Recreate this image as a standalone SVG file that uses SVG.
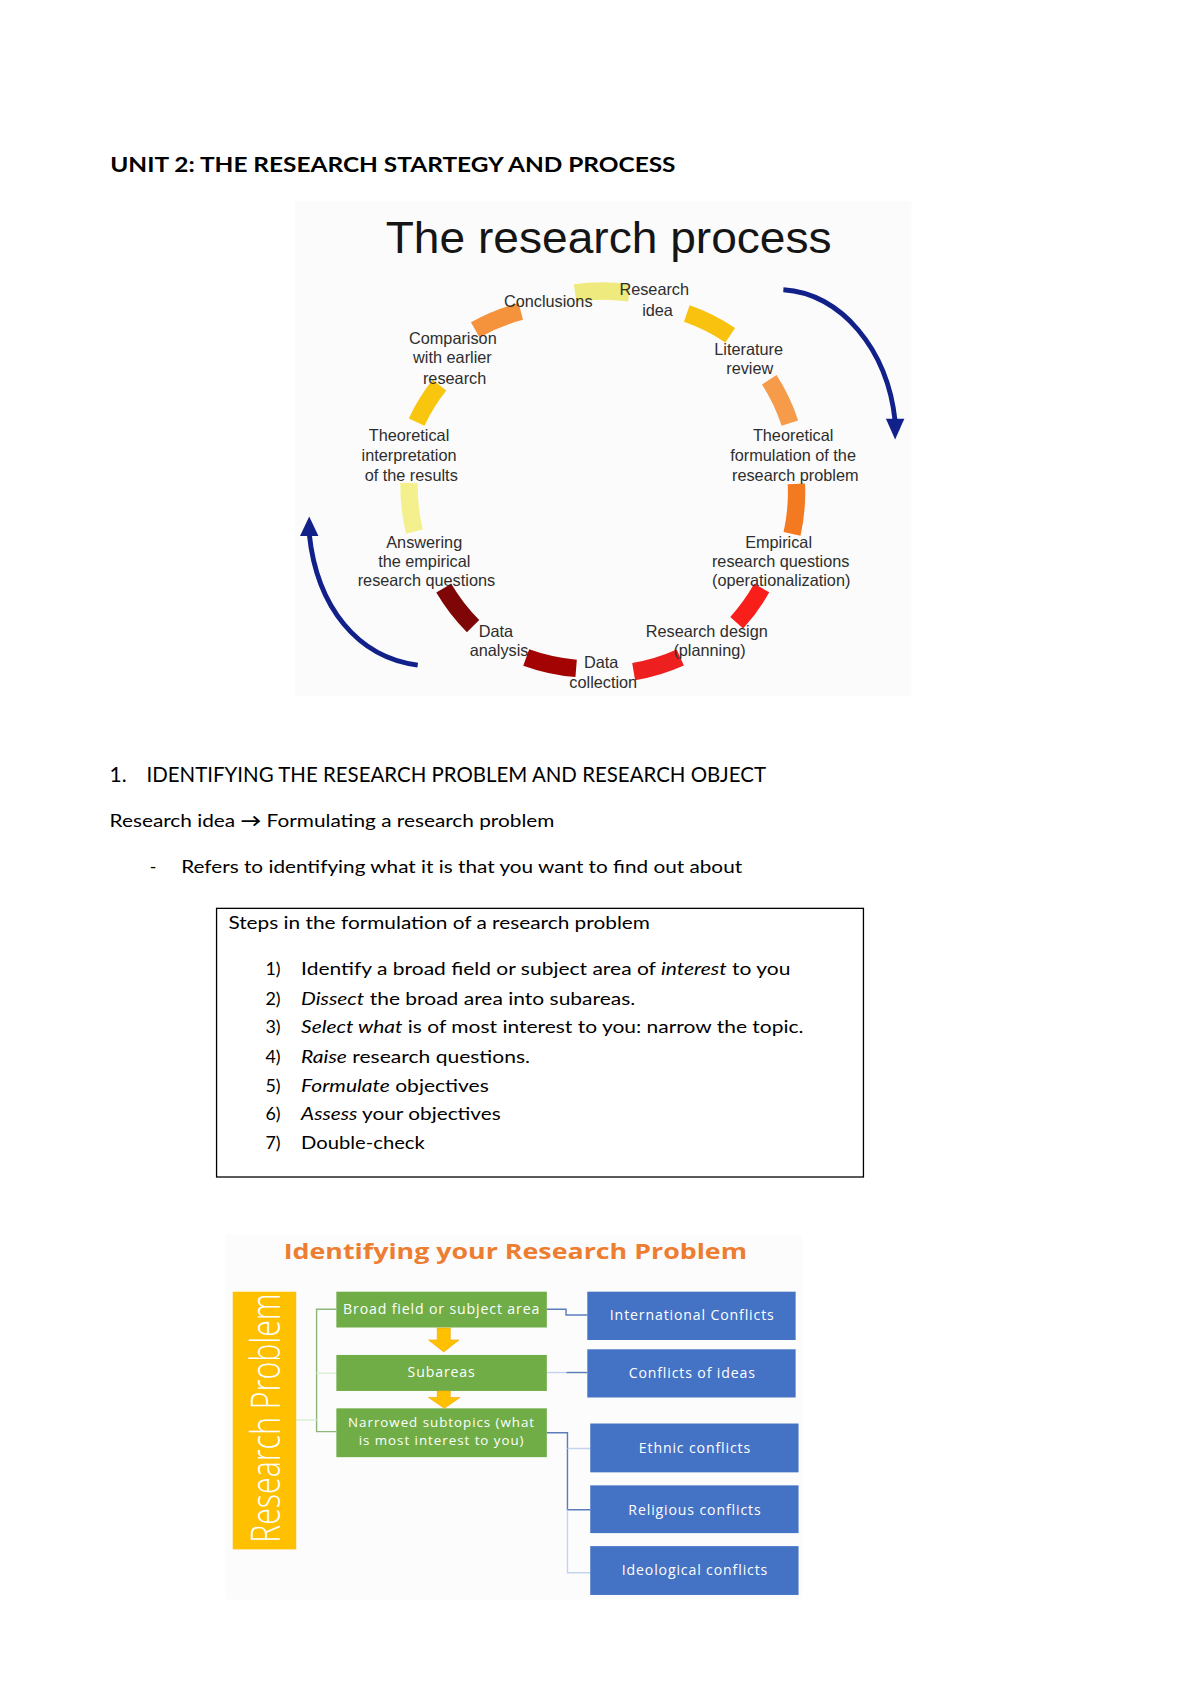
<svg xmlns="http://www.w3.org/2000/svg" width="1200" height="1696" viewBox="0 0 1200 1696">
<defs>
<style>
.t{font-family:Lato,"Liberation Sans",sans-serif;fill:#000}
.tb{font-family:Lato,"Liberation Sans",sans-serif;font-weight:bold;font-size:20px;fill:#000}
.h{font-family:Lato,"Liberation Sans",sans-serif;font-size:19.3px;fill:#000}
.b{font-family:Lato,"Liberation Sans",sans-serif;font-size:16.5px;fill:#000}
.i{font-style:italic}
.c{font-family:"Liberation Sans",Arial,sans-serif;font-size:15px;fill:#2e2e2e;text-anchor:middle}
.seg{fill:none;stroke-width:16;stroke-linecap:butt}
.nav{fill:none;stroke:#12208a;stroke-width:4.5}
.g{fill:#70AD47}
.bl{fill:#4472C4}
.w{font-family:"Open Sans","Liberation Sans",sans-serif;font-size:13px;letter-spacing:0.8px;fill:#fff;text-anchor:middle}
.ws{font-size:12.3px;letter-spacing:0.9px}
.lg{fill:none;stroke:#8db67a;stroke-width:1.3}
.lgf{fill:none;stroke:#dcefd0;stroke-width:1.3}
.lb{fill:none;stroke:#5b7cbb;stroke-width:1.3}
.lbf{fill:none;stroke:#c4d4ee;stroke-width:1.3}
</style>
</defs>
<rect width="1200" height="1696" fill="#fff"/>
<g transform="scale(1.085)">
<g id="page-text">
<text class="tb" x="101.6" y="158.2" textLength="521" lengthAdjust="spacingAndGlyphs">UNIT 2: THE RESEARCH STARTEGY AND PROCESS</text>
<text class="h" x="101" y="720.4">1.</text>
<text class="h" x="135" y="720.4" textLength="571" lengthAdjust="spacingAndGlyphs">IDENTIFYING THE RESEARCH PROBLEM AND RESEARCH OBJECT</text>
<text class="b" x="101" y="762.5" textLength="410" lengthAdjust="spacingAndGlyphs">Research idea <tspan font-weight="bold">→</tspan> Formulating a research problem</text>
<text class="b" x="138" y="804.3">-</text>
<text class="b" x="167" y="804.3" textLength="517" lengthAdjust="spacingAndGlyphs">Refers to identifying what it is that you want to find out about</text>
</g>
<g id="research-process">
<rect x="272" y="185" width="568" height="457" fill="#fbfbfb"/>
<text x="561" y="233.5" font-family="Liberation Sans,Arial,sans-serif" font-size="41" fill="#151515" text-anchor="middle" textLength="411" lengthAdjust="spacingAndGlyphs">The research process</text>
<g id="cycle-segments">
<path class="seg" stroke="#EEEA7E" d="M530,270 A175,175 0 0 1 580,270"/>
<path class="seg" stroke="#F8C20E" d="M633,289 A175,175 0 0 1 673,309"/>
<path class="seg" stroke="#F59B4A" d="M709,350 A175,175 0 0 1 728,390"/>
<path class="seg" stroke="#F37A21" d="M734,446 A175,175 0 0 1 730,492"/>
<path class="seg" stroke="#F81E1A" d="M702,542 A175,175 0 0 1 679,574"/>
<path class="seg" stroke="#EE1F1F" d="M627,606 A175,175 0 0 1 584,619"/>
<path class="seg" stroke="#A30303" d="M531,616 A175,175 0 0 1 485,606"/>
<path class="seg" stroke="#7E0606" d="M436,577 A175,175 0 0 1 409,542"/>
<path class="seg" stroke="#F4F08E" d="M382,490 A175,175 0 0 1 377,445"/>
<path class="seg" stroke="#F9C60F" d="M384,389 A175,175 0 0 1 405,355"/>
<path class="seg" stroke="#F5923C" d="M438,304 A175,175 0 0 1 480,287"/>
</g>
<g id="step-research-idea"><text class="c" x="603" y="272">Research</text><text class="c" x="606" y="291">idea</text></g>
<g id="step-literature"><text class="c" x="690" y="327">Literature</text><text class="c" x="691" y="345">review</text></g>
<g id="step-theoretical-formulation"><text class="c" x="731" y="406.5">Theoretical</text><text class="c" x="731" y="425">formulation of the</text><text class="c" x="733" y="443">research problem</text></g>
<g id="step-empirical"><text class="c" x="717.6" y="505">Empirical</text><text class="c" x="719.5" y="523">research questions</text><text class="c" x="720" y="540">(operationalization)</text></g>
<g id="step-design"><text class="c" x="651.4" y="587">Research design</text><text class="c" x="654" y="605">(planning)</text></g>
<g id="step-collection"><text class="c" x="554" y="616">Data</text><text class="c" x="556" y="634">collection</text></g>
<g id="step-analysis"><text class="c" x="457" y="587">Data</text><text class="c" x="460" y="605">analysis</text></g>
<g id="step-answering"><text class="c" x="391" y="505">Answering</text><text class="c" x="391" y="523">the empirical</text><text class="c" x="393" y="540">research questions</text></g>
<g id="step-interpretation"><text class="c" x="377" y="406.5">Theoretical</text><text class="c" x="377" y="425">interpretation</text><text class="c" x="379" y="443">of the results</text></g>
<g id="step-comparison"><text class="c" x="417.4" y="317">Comparison</text><text class="c" x="417" y="335">with earlier</text><text class="c" x="419" y="354">research</text></g>
<g id="step-conclusions"><text class="c" x="505.3" y="283">Conclusions</text></g>
<g id="cycle-arrows">
<path class="nav" d="M722,267 C775,270 818,322 825,388"/>
<polygon fill="#12208a" points="816.5,386 833.5,386 825,405"/>
<path class="nav" d="M385,613 C330,606 292,560 285,492"/>
<polygon fill="#12208a" points="276.5,494 293.5,494 285,476"/>
</g>
</g>
<g id="steps-box">
<rect x="199.6" y="837.2" width="596.2" height="247.6" fill="none" stroke="#000" stroke-width="1.2"/>
<text class="b" x="210.5" y="856.5" textLength="388.5" lengthAdjust="spacingAndGlyphs">Steps in the formulation of a research problem</text>
<text class="b" x="244.6" y="898.6">1)</text>
<text class="b" x="277.5" y="898.6" textLength="451" lengthAdjust="spacingAndGlyphs">Identify a broad field or subject area of <tspan class="i">interest</tspan> to you</text>
<text class="b" x="244.6" y="926.3">2)</text>
<text class="b" x="277.5" y="926.3" textLength="308" lengthAdjust="spacingAndGlyphs"><tspan class="i">Dissect</tspan> the broad area into subareas.</text>
<text class="b" x="244.6" y="952.4">3)</text>
<text class="b" x="277.5" y="952.4" textLength="463" lengthAdjust="spacingAndGlyphs"><tspan class="i">Select what</tspan> is of most interest to you: narrow the topic.</text>
<text class="b" x="244.6" y="979.4">4)</text>
<text class="b" x="277.5" y="979.4" textLength="211" lengthAdjust="spacingAndGlyphs"><tspan class="i">Raise</tspan> research questions.</text>
<text class="b" x="244.6" y="1006">5)</text>
<text class="b" x="277.5" y="1006" textLength="173" lengthAdjust="spacingAndGlyphs"><tspan class="i">Formulate</tspan> objectives</text>
<text class="b" x="244.6" y="1032.3">6)</text>
<text class="b" x="277.5" y="1032.3" textLength="184" lengthAdjust="spacingAndGlyphs"><tspan class="i">Assess</tspan> your objectives</text>
<text class="b" x="244.6" y="1059.4">7)</text>
<text class="b" x="277.5" y="1059.4" textLength="114" lengthAdjust="spacingAndGlyphs">Double-check</text>
</g>
<g id="research-problem-chart">
<rect x="208" y="1138" width="531" height="336" fill="#fcfcfc"/>
<text x="475" y="1160.7" font-family="Open Sans,Liberation Sans,sans-serif" font-weight="bold" font-size="19.5" fill="#ED7D31" text-anchor="middle" textLength="427" lengthAdjust="spacingAndGlyphs">Identifying your Research Problem</text>
<g id="connectors">
<path class="lg" d="M310,1206.7 H291.8 V1319.5 H310"/>
<path class="lgf" d="M291.8,1265.7 H310 M273,1308.7 H291.8"/>
<path class="lb" d="M504,1206.7 H521.7 V1212 H541.3"/>
<path class="lbf" d="M504,1265 H522"/>
<path class="lb" d="M522,1265 H541.3"/>
<path class="lb" d="M504,1320.5 H523 V1391.5 H544"/>
<path class="lbf" d="M523,1391.5 V1449.5 H544 M523,1335 H544"/>
</g>
<g id="node-research-problem">
<rect x="214.5" y="1190.5" width="58.5" height="237.5" fill="#FFC000"/>
<text transform="translate(258,1307) rotate(-90)" x="0" y="0" font-family="Open Sans,Liberation Sans,sans-serif" font-weight="300" font-size="37" fill="#fff" text-anchor="middle" textLength="230" lengthAdjust="spacingAndGlyphs">Research Problem</text>
</g>
<g id="node-broad"><rect class="g" x="310" y="1190.5" width="194" height="33"/><text class="w" x="407" y="1211">Broad field or subject area</text></g>
<g id="node-subareas"><rect class="g" x="310" y="1248.8" width="194" height="33.2"/><text class="w" x="407" y="1269">Subareas</text></g>
<g id="node-narrowed"><rect class="g" x="310" y="1298" width="194" height="45"/><text class="w ws" x="407" y="1315.5">Narrowed subtopics (what</text><text class="w ws" x="407" y="1331.5">is most interest to you)</text></g>
<g id="down-arrows">
<polygon fill="#FFC000" stroke="#F0A800" stroke-width="0.6" points="403,1224 415,1224 415,1235 423,1235 409,1246 395,1235 403,1235"/>
<polygon fill="#FFC000" stroke="#F0A800" stroke-width="0.6" points="403,1282 415,1282 415,1288 424,1288 409.5,1298 395,1288 403,1288"/>
</g>
<g id="node-international"><rect class="bl" x="541.3" y="1190.5" width="192" height="44.5"/><text class="w" x="638" y="1217">International Conflicts</text></g>
<g id="node-ideas"><rect class="bl" x="541.3" y="1243.6" width="192" height="44.4"/><text class="w" x="638" y="1270.5">Conflicts of ideas</text></g>
<g id="node-ethnic"><rect class="bl" x="544" y="1312" width="192" height="45"/><text class="w" x="640.5" y="1339">Ethnic conflicts</text></g>
<g id="node-religious"><rect class="bl" x="544" y="1369" width="192" height="44"/><text class="w" x="640.5" y="1396">Religious conflicts</text></g>
<g id="node-ideological"><rect class="bl" x="544" y="1425" width="192" height="45"/><text class="w" x="640.5" y="1452">Ideological conflicts</text></g>
</g>
</g>
</svg>
